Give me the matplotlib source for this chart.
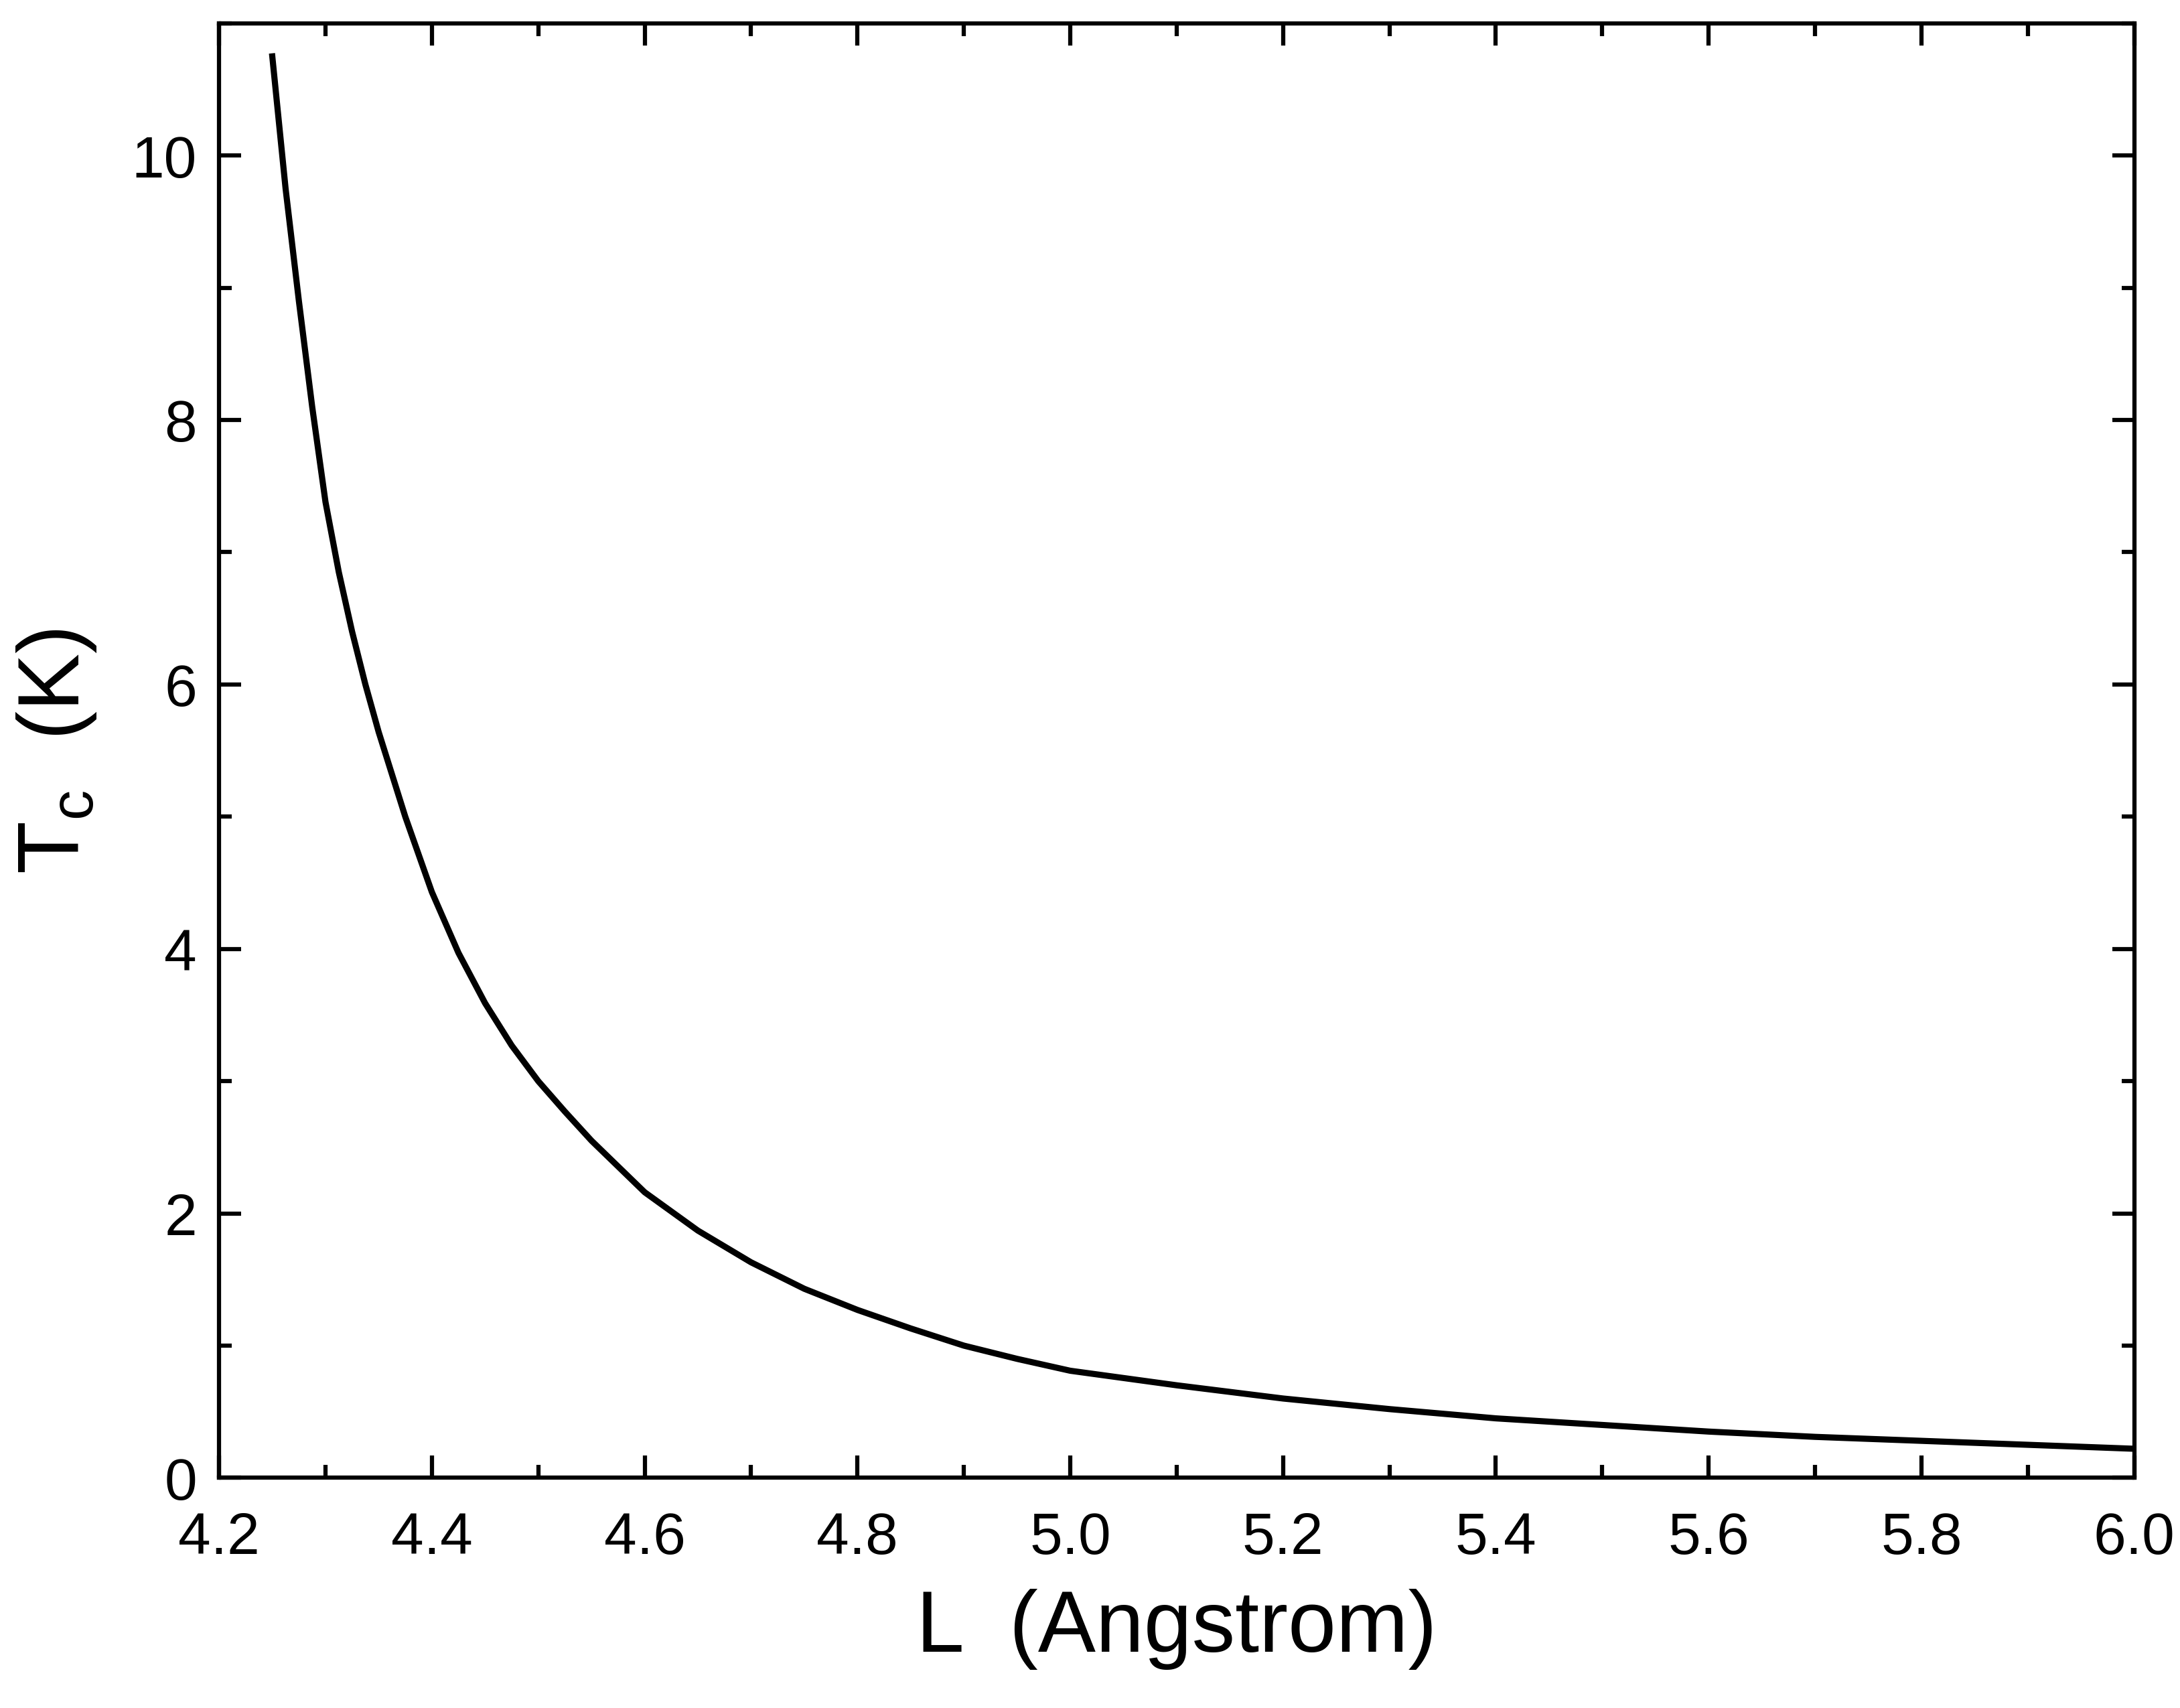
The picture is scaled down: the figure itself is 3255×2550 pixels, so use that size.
import matplotlib
matplotlib.use("Agg")
import matplotlib.pyplot as plt
from matplotlib.ticker import MultipleLocator

plt.rcParams['font.family'] = ['Liberation Sans', 'DejaVu Sans']

L = [4.25, 4.2625, 4.275, 4.2875, 4.3, 4.3125, 4.325, 4.3375, 4.35, 4.375, 4.4, 4.425,
     4.45, 4.475, 4.5, 4.525, 4.55, 4.6, 4.65, 4.7, 4.75, 4.8, 4.85, 4.9, 4.95, 5.0,
     5.1, 5.2, 5.3, 5.4, 5.5, 5.6, 5.7, 5.8, 5.9, 6.0]
Tc = [10.75, 9.75, 8.9, 8.1, 7.38, 6.85, 6.4, 6.0, 5.64, 5.0, 4.43, 3.97,
      3.59, 3.27, 3.0, 2.77, 2.55, 2.16, 1.87, 1.63, 1.43, 1.27, 1.13, 1.0, 0.9, 0.81,
      0.7, 0.6, 0.52, 0.45, 0.4, 0.35, 0.31, 0.28, 0.25, 0.22]

fig = plt.figure(figsize=(10.85, 8.503), dpi=300)
ax = fig.add_axes([0.1005, 0.1347, 0.8785, 0.8513])
ax.plot(L, Tc, color='black', lw=2.2, solid_joinstyle='round')
ax.set_xlim(4.2, 6.0)
ax.set_ylim(0, 11)
ax.xaxis.set_major_locator(MultipleLocator(0.2))
ax.xaxis.set_minor_locator(MultipleLocator(0.1))
ax.yaxis.set_major_locator(MultipleLocator(2))
ax.yaxis.set_minor_locator(MultipleLocator(1))
ax.tick_params(which='both', direction='in', top=True, right=True, width=1.5, labelsize=21)
ax.tick_params(which='major', length=8)
ax.tick_params(which='minor', length=4.5)
ax.tick_params(axis='x', pad=12)
ax.tick_params(axis='y', pad=8)
for s in ax.spines.values():
    s.set_linewidth(1.5)
ax.xaxis.set_major_formatter(matplotlib.ticker.FormatStrFormatter('%.1f'))
ax.set_xlabel('L  (Angstrom)', fontsize=31, labelpad=8)
ax.set_ylabel(r'T$_\mathregular{c}$  (K)', fontsize=31, labelpad=12)
fig.savefig('out.png')
